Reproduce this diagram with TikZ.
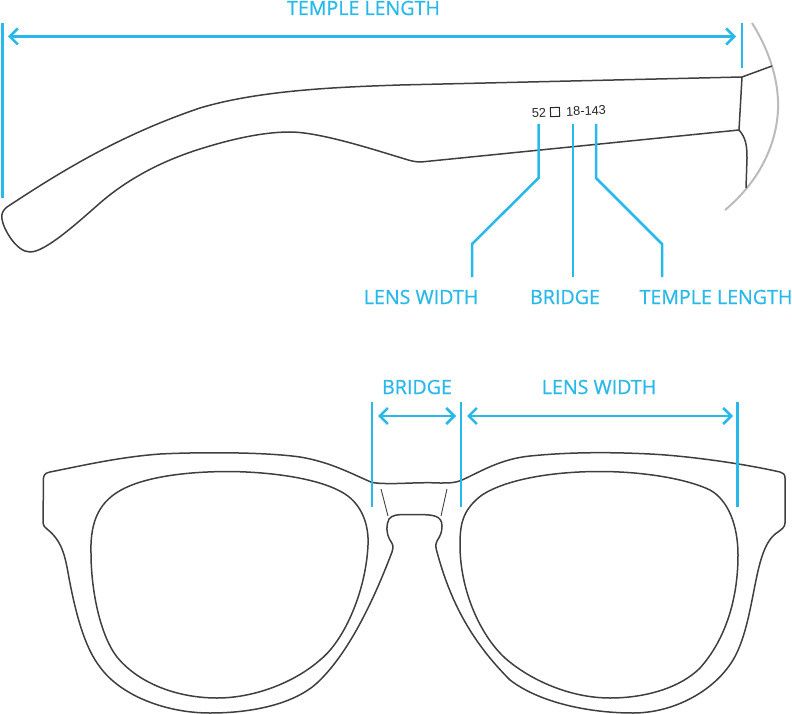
\documentclass[tikz,border=0pt]{standalone}
\usepackage{fontspec}
\setmainfont{Open Sans}[FakeBold=0.7]
\newfontfamily\stampfont{Liberation Sans}
\usetikzlibrary{arrows.meta}
\definecolor{dimblue}{HTML}{29B8EA}
\definecolor{framegray}{HTML}{3F3F3F}
\definecolor{headgray}{HTML}{BBBBBB}
\tikzset{
	dimline/.style={dimblue, line width=2.5pt},
	dimarrow/.style={dimline, {Straight Barb[length=8pt, width=16pt]}-{Straight Barb[length=8pt, width=16pt]}},
	dimlabel/.style={dimblue, font=\fontsize{19.6}{22}\selectfont, inner sep=0pt},
	outline/.style={framegray, line width=1.5pt, line join=round},
	thinline/.style={framegray, line width=.9pt},
	stamp/.style={black!85, font=\stampfont\fontsize{12.8}{14}\selectfont, inner sep=0pt, rotate=2.5}
}
\begin{document}
\begin{tikzpicture}[x=1pt, y=-1pt]
	\useasboundingbox (0, 0) rectangle (792, 714);

	\draw[headgray, line width=2pt] (752, 23) .. controls (772, 55) and (779, 85) .. (778, 110) .. controls (776, 150) and (755, 185) .. (725, 210);

	\draw[outline] (742, 77) -- (400, 85) .. controls (340, 87) and (260, 90) .. (200, 108) .. controls (120, 135) and (60, 172) .. (7, 207) .. controls (3, 210) and (1, 214) .. (2, 219) .. controls (3, 228) and (16, 252) .. (30, 252) .. controls (45, 252) and (75, 225) .. (100, 203) .. controls (130, 177) and (165, 160) .. (200, 149) .. controls (235, 138) and (265, 132) .. (290, 132) .. controls (320, 132) and (375, 150) .. (405, 159) .. controls (411, 161) and (416, 162) .. (421, 162) -- (739, 130);
	\draw[outline] (742, 77) -- (739, 130);
	\draw[outline] (742, 77) -- (772, 66);
	\draw[outline] (739, 130) .. controls (746, 138) and (747, 146) .. (747, 158) -- (746, 188);

	\draw[outline] (372, 482.5) .. controls (350, 473) and (330, 462) .. (300, 457) .. controls (265, 452) and (200, 452) .. (160, 454) .. controls (120, 457) and (85, 465) .. (50, 472) .. controls (46, 473) and (44, 474) .. (43.5, 478) -- (43, 523) .. controls (43, 526) and (45, 527) .. (47, 529) .. controls (62, 541) and (65, 555) .. (69, 578) .. controls (76, 615) and (85, 648) .. (100, 667) .. controls (120, 695) and (165, 713) .. (210, 713) .. controls (255, 713) and (295, 703) .. (317, 683) .. controls (345, 657) and (370, 610) .. (392, 552) .. controls (394, 546) and (393, 545) .. (390, 540) .. controls (386, 533) and (386, 525) .. (389, 519) .. controls (392, 515) and (398, 514.5) .. (405, 514.5) -- (421, 514.5) .. controls (432, 515) and (442, 515) .. (442, 526) .. controls (442, 533) and (440, 536) .. (437, 541) .. controls (435, 545) and (436, 548) .. (437, 552) .. controls (450, 600) and (470, 640) .. (510, 680) .. controls (540, 703) and (590, 713) .. (633, 713) .. controls (675, 713) and (715, 690) .. (733, 660) .. controls (745, 640) and (750, 610) .. (755, 585) .. controls (760, 560) and (765, 540) .. (778, 532) .. controls (782, 529) and (785, 527) .. (785, 523) -- (785, 478) .. controls (785, 474) and (783, 473) .. (780, 472) .. controls (745, 464) and (690, 456) .. (650, 454) .. controls (610, 452) and (570, 452) .. (530, 456) .. controls (500, 459) and (480, 472) .. (462, 480) .. controls (455, 483) and (450, 483) .. (440, 483) .. controls (420, 482) and (400, 484) .. (385, 483.5) .. controls (380, 483.5) and (376, 483) .. (372, 482.5) -- cycle;
	\draw[outline] (230, 471.5) .. controls (270, 472) and (320, 478) .. (345, 494) .. controls (362, 505) and (369, 525) .. (368, 545) .. controls (366, 590) and (345, 640) .. (320, 660) .. controls (295, 682) and (255, 698) .. (217, 698) .. controls (180, 698) and (140, 685) .. (117, 657) .. controls (100, 635) and (91, 590) .. (91, 553) .. controls (90, 520) and (100, 500) .. (125, 488) .. controls (150, 476) and (190, 471.5) .. (230, 471.5) -- cycle;
	\draw[outline] (600, 471.5) .. controls (640, 471.5) and (685, 478) .. (710, 490) .. controls (728, 500) and (738, 525) .. (738, 555) .. controls (738, 600) and (725, 640) .. (700, 668) .. controls (680, 688) and (645, 698) .. (610, 698) .. controls (570, 698) and (530, 680) .. (505, 658) .. controls (480, 635) and (460, 590) .. (460, 545) .. controls (460, 525) and (462, 510) .. (482, 495) .. controls (505, 480) and (550, 471.5) .. (600, 471.5) -- cycle;
	\draw[thinline] (381, 489) -- (388, 516);
	\draw[thinline] (447, 489) -- (441, 516);

	\node[stamp] (size52) at (539, 113) {52};
	\node[draw=black!85, line width=1pt, minimum size=9pt, inner sep=0pt, rotate=2.5] (sizebox) at (555, 112) {};
	\node[stamp] (size18) at (586, 111) {18-143};

	\node[dimlabel] (toplength) at (363.5, 8) {TEMPLE LENGTH};
	\node[dimlabel] (stemwidth) at (421, 297) {LENS WIDTH};
	\node[dimlabel] (stembridge) at (565, 297) {BRIDGE};
	\node[dimlabel] (stemlength) at (716, 297) {TEMPLE LENGTH};
	\node[dimlabel] (frontbridge) at (417, 387) {BRIDGE};
	\node[dimlabel] (frontwidth) at (599, 387) {LENS WIDTH};

	\coordinate (a1) at (2.5, 23);
	\coordinate (a2) at (2.5, 198);
	\coordinate (b1) at (742, 23);
	\coordinate (b2) at (742, 68);
	\coordinate (c1) at (8, 36.5);
	\coordinate (c2) at (736, 36.5);
	\draw[dimline] (a1) -- (a2);
	\draw[dimline] (b1) -- (b2);
	\draw[dimarrow] (c1) -- (c2);

	\coordinate (d1) at (538.5, 124);
	\coordinate (d2) at (538.5, 178);
	\coordinate (d3) at (472, 244);
	\coordinate (d4) at (472, 277);
	\draw[dimline] (d1) -- (d2) -- (d3) -- (d4);
	\coordinate (e1) at (573, 124);
	\coordinate (e2) at (573, 277);
	\draw[dimline] (e1) -- (e2);
	\coordinate (f1) at (596, 124);
	\coordinate (f2) at (596, 178);
	\coordinate (f3) at (662, 244);
	\coordinate (f4) at (662, 277);
	\draw[dimline] (f1) -- (f2) -- (f3) -- (f4);

	\coordinate (g1) at (372, 402);
	\coordinate (g2) at (372, 507);
	\coordinate (h1) at (461, 402);
	\coordinate (h2) at (461, 507);
	\coordinate (i1) at (737.5, 402);
	\coordinate (i2) at (737.5, 507);
	\draw[dimline] (g1) -- (g2);
	\draw[dimline] (h1) -- (h2);
	\draw[dimline] (i1) -- (i2);
	\coordinate (j1) at (378, 416);
	\coordinate (j2) at (456, 416);
	\coordinate (k1) at (467, 416);
	\coordinate (k2) at (733, 416);
	\draw[dimarrow] (j1) -- (j2);
	\draw[dimarrow] (k1) -- (k2);
\end{tikzpicture}
\end{document}
